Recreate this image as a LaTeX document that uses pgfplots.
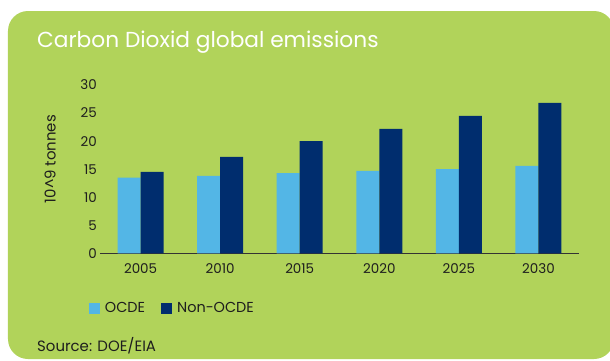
\documentclass[border=0pt]{standalone}
\usepackage{fontspec}
\setmainfont{Poppins}
\usepackage{pgfplots}
\pgfplotsset{compat=1.18}
\usetikzlibrary{calc}
\pgfdeclarelayer{background}
\pgfsetlayers{background,main}
\definecolor{bggreen}{HTML}{B1D35A}
\definecolor{ocde}{HTML}{53B6E6}
\definecolor{nonocde}{HTML}{002D6E}
\definecolor{txt}{HTML}{1E1E1E}
\begin{document}
\begin{tikzpicture}[x=1bp,y=1bp]
\begin{axis}[
  scale only axis, width=479bp, height=168.3bp,
  xmin=-0.51, xmax=5.51, ymin=0, ymax=30,
  ybar=0pt, bar width=23bp,
  xtick=data, xticklabels={2005,2010,2015,2020,2025,2030},
  ytick={0,5,10,15,20,25,30},
  major tick length=0pt,
  separate axis lines,
  axis x line*=bottom, axis y line*=left,
  y axis line style={draw=none},
  x axis line style={-, draw=black!80, line width=1.1bp},
  /pgf/number format/assume math mode=true,
  tick label style={font=\fontsize{13.5}{16}\selectfont, text=txt},
  yticklabel style={inner sep=0pt, anchor=east, xshift=-3bp},
  xticklabel style={inner sep=0pt, anchor=north, yshift=-10bp},
  ylabel={10\textasciicircum 9 tonnes},
  ylabel style={at={(axis description cs:-0.104,0.56)}, anchor=center, font=\fontsize{15}{18}\selectfont, text=txt},
  legend columns=2,
  legend style={at={(axis description cs:-0.023,-0.325)}, anchor=west, draw=none, fill=none,
    inner sep=0pt, outer sep=0pt, font=\fontsize{14.5}{16}\selectfont, text=txt,
    column sep=5bp, nodes={inner sep=0pt},
    /tikz/every even column/.append style={column sep=16bp}},
  legend image code/.code={\fill[#1] (0bp,-5.5bp) rectangle (11bp,5.5bp);},
]
\addplot[fill=ocde, draw=none] coordinates {(0,13.5) (1,13.8) (2,14.3) (3,14.7) (4,15.0) (5,15.6)};
\addplot[fill=nonocde, draw=none] coordinates {(0,14.5) (1,17.2) (2,20.0) (3,22.2) (4,24.5) (5,26.8)};
\legend{OCDE, Non-OCDE}
\coordinate (O) at (rel axis cs:0,0);
\end{axis}
\pgfresetboundingbox
\path[use as bounding box] ($(O)+(-100,-106.7)$) rectangle ++(610,360);
\begin{pgfonlayer}{background}
\fill[white] ($(O)+(-100,-106.7)$) rectangle ++(610,360);
\fill[bggreen, rounded corners=20bp] ($(O)+(-92,-105.7)$) rectangle ($(O)+(514,242.3)$);
\end{pgfonlayer}
\node[anchor=west, text=white, font=\fontsize{21.8}{26}\selectfont, inner sep=0pt] at ($(O)+(-63,211.3)$) {Carbon Dioxid global emissions};
\node[anchor=west, text=txt, font=\fontsize{15}{18}\selectfont, inner sep=0pt] at ($(O)+(-63,-92.7)$) {Source: DOE/EIA};
\end{tikzpicture}
\end{document}
